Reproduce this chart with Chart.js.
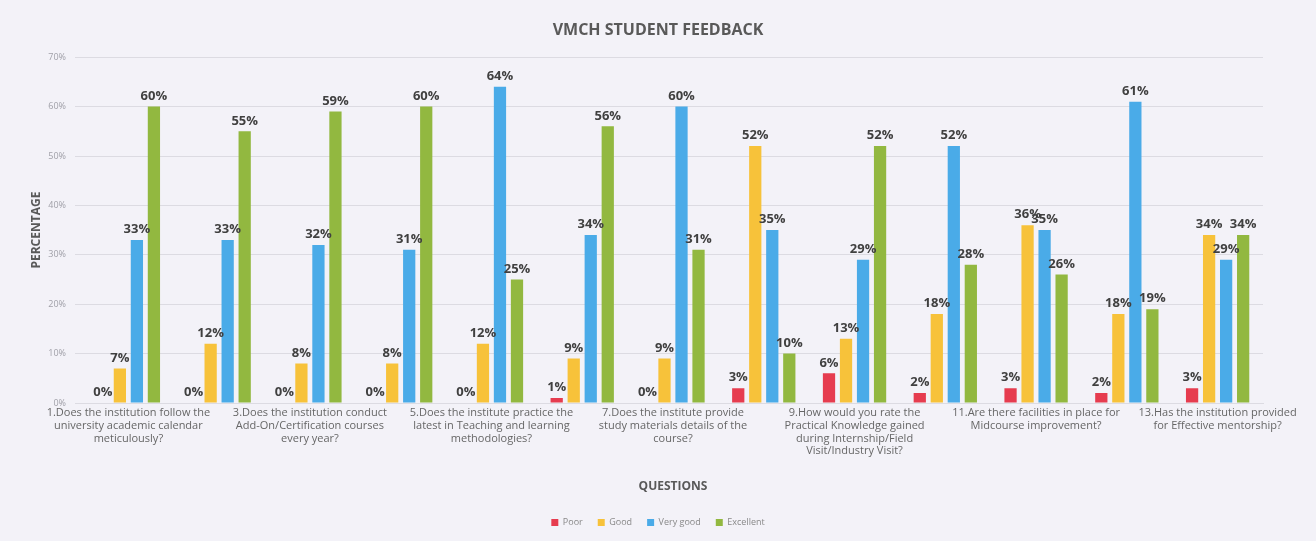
<!DOCTYPE html>
<html>
<head>
<meta charset="utf-8">
<title>VMCH Student Feedback</title>
<script src="https://cdn.jsdelivr.net/npm/chart.js@4.4.1/dist/chart.umd.min.js"></script>
<style>
  html, body { margin: 0; padding: 0; background: #f3f2f8; }
  #wrap { width: 1316px; height: 541px; position: relative; }
</style>
</head>
<body>
<div id="wrap"><canvas id="chart"></canvas></div>
<script>
// questions (only odd ones are printed under the axis in the original)
const questions = [
  ['1.Does the institution follow the', 'university academic calendar', 'meticulously?'],
  ['2.Question 2'],
  ['3.Does the institution conduct', 'Add-On/Certification courses', 'every year?'],
  ['4.Question 4'],
  ['5.Does the institute practice the', 'latest in Teaching and learning', 'methodologies?'],
  ['6.Question 6'],
  ['7.Does the institute provide', 'study materials details of the', 'course?'],
  ['8.Question 8'],
  ['9.How would you rate the', 'Practical Knowledge gained', 'during Internship/Field', 'Visit/Industry Visit?'],
  ['10.Question 10'],
  ['11.Are there facilities in place for', 'Midcourse improvement?'],
  ['12.Question 12'],
  ['13.Has the institution provided', 'for Effective mentorship?']
];

const poor      = [0, 0, 0, 0, 0, 1, 0, 3, 6, 2, 3, 2, 3];
const good      = [7, 12, 8, 8, 12, 9, 9, 52, 13, 18, 36, 18, 34];
const veryGood  = [33, 33, 32, 31, 64, 34, 60, 35, 29, 52, 35, 61, 29];
const excellent = [60, 55, 59, 60, 25, 56, 31, 10, 52, 28, 26, 19, 34];

const yTickLabels = ['0%', '10%', '20%', '30%', '40%', '50%', '60%', '70%'];

// value labels above each bar
const barValueLabels = {
  id: 'barValueLabels',
  afterDatasetsDraw(chart) {
    const ctx = chart.ctx;
    ctx.save();
    ctx.font = 'bold 13px "Open Sans"';
    ctx.fillStyle = '#404040';
    ctx.textAlign = 'center';
    ctx.textBaseline = 'bottom';
    chart.data.datasets.forEach((ds, i) => {
      const meta = chart.getDatasetMeta(i);
      meta.data.forEach((bar, j) => {
        ctx.fillText(ds.data[j] + '%', bar.x, bar.y - 4);
      });
    });
    ctx.restore();
  }
};

const canvas = document.getElementById('chart');
canvas.width = 1316;
canvas.height = 541;

new Chart(canvas, {
  type: 'bar',
  data: {
    labels: questions,
    datasets: [
      { label: 'Poor', data: poor, backgroundColor: '#e63c4f' },
      { label: 'Good', data: good, backgroundColor: '#f7c23a' },
      { label: 'Very good', data: veryGood, backgroundColor: '#4aabe8' },
      { label: 'Excellent', data: excellent, backgroundColor: '#92b840' }
    ]
  },
  options: {
    responsive: false,
    animation: false,
    categoryPercentage: 0.75,
    barPercentage: 0.72,
    layout: { padding: { left: 0, right: 0, top: 0, bottom: 4 } },
    plugins: {
      title: {
        display: true,
        text: 'VMCH STUDENT FEEDBACK',
        color: '#595959',
        font: { family: 'Open Sans', size: 16, weight: 'bold' },
        padding: { top: 21, bottom: 17 }
      },
      legend: {
        position: 'bottom',
        labels: {
          boxWidth: 7,
          boxHeight: 7,
          padding: 15,
          color: '#888',
          font: { family: 'Open Sans', size: 9 }
        }
      },
      tooltip: { enabled: false }
    },
    scales: {
      y: {
        min: 0,
        max: 70,
        ticks: {
          stepSize: 10,
          padding: 9,
          color: '#a0a0a8',
          font: { family: 'Open Sans', size: 9 },
          callback: (v) => yTickLabels[v / 10]
        },
        grid: { color: '#dcdbe2' },
        border: { display: false },
        title: {
          display: true,
          text: 'PERCENTAGE',
          color: '#595959',
          font: { family: 'Open Sans', size: 12, weight: 'bold' },
          padding: { top: 29, bottom: 4 }
        },
        afterFit(scale) { scale.width = 83; }
      },
      // empty right-hand axis, only keeps the right margin
      yRight: {
        position: 'right',
        min: 0,
        max: 70,
        grid: { display: false },
        border: { display: false },
        ticks: { display: false },
        afterFit(scale) { scale.width = 53; }
      },
      x: {
        grid: { display: false, drawTicks: false },
        border: { color: '#dcdbe2' },
        ticks: {
          autoSkip: false,
          maxRotation: 0,
          color: '#666',
          padding: 4,
          font: { family: 'Open Sans', size: 11, lineHeight: 1.15 },
          callback: function (v, i) { return i % 2 === 0 ? questions[i] : ''; }
        },
        title: {
          display: true,
          text: 'QUESTIONS',
          color: '#595959',
          font: { family: 'Open Sans', size: 12, weight: 'bold' },
          padding: { top: 18, bottom: 9 }
        }
      }
    }
  },
  plugins: [barValueLabels]
});
</script>
</body>
</html>
